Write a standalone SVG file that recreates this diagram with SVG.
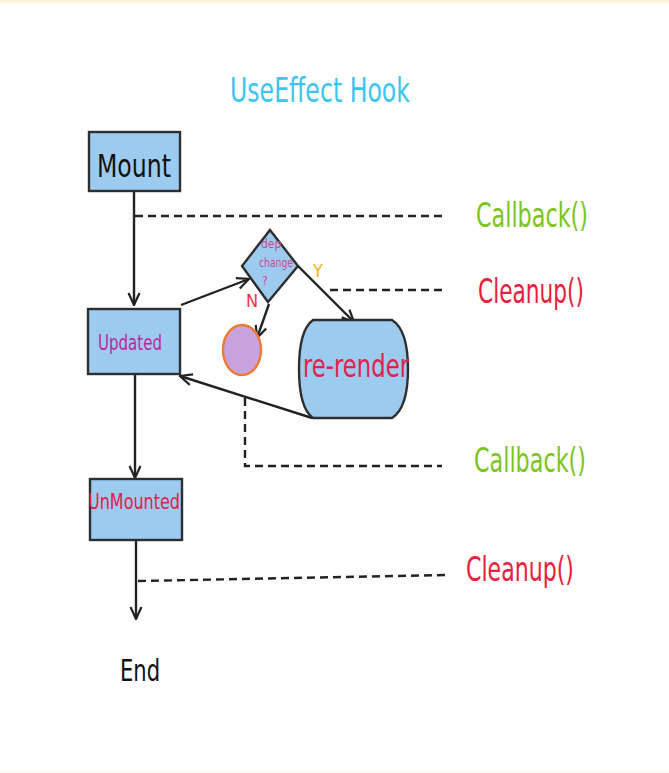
<svg xmlns="http://www.w3.org/2000/svg" width="669" height="773" viewBox="0 0 669 773">
<defs>
<style>
.box{fill:#9dcbf0;stroke:#2e2e2e;stroke-width:2.4}
.ln{fill:none;stroke:#222;stroke-width:2.4}
.dash{fill:none;stroke:#222;stroke-width:2.4;stroke-dasharray:8 5}
.t{font-family:"Liberation Sans Narrow","DejaVu Sans Condensed","Liberation Sans",sans-serif}
</style>
<marker id="arr" viewBox="0 0 14 14" refX="13" refY="7" markerWidth="14" markerHeight="14" markerUnits="userSpaceOnUse" orient="auto">
<path d="M1,1.5 L13,7 L1,12.5" fill="none" stroke="#222" stroke-width="2.2"/>
</marker>
</defs>
<rect x="0" y="0" width="669" height="773" fill="#ffffff"/>
<rect x="0" y="0" width="669" height="3" fill="#fff4d4"/>
<rect x="0" y="771" width="669" height="2" fill="#fffaf0"/>

<text class="t" x="320" y="102" font-size="34" fill="#3ec4f0" text-anchor="middle" textLength="180" lengthAdjust="spacingAndGlyphs">UseEffect Hook</text>

<g id="connectors">
<line class="ln" x1="134" y1="191" x2="134" y2="305" marker-end="url(#arr)"/>
<line class="ln" x1="181" y1="305" x2="249" y2="279" marker-end="url(#arr)"/>
<line class="ln" x1="298" y1="266" x2="354" y2="322" marker-end="url(#arr)"/>
<line class="ln" x1="269" y1="304" x2="257" y2="338" marker-end="url(#arr)"/>
<line class="ln" x1="312" y1="418" x2="180" y2="376" marker-end="url(#arr)"/>
<line class="ln" x1="135" y1="374" x2="135" y2="478" marker-end="url(#arr)"/>
<line class="ln" x1="136" y1="540" x2="136" y2="619" marker-end="url(#arr)"/>
<line class="dash" x1="135" y1="216" x2="442" y2="216"/>
<line class="dash" x1="330" y1="290" x2="442" y2="290"/>
<polyline class="dash" points="245,398 245,466 442,466"/>
<line class="dash" x1="138" y1="581" x2="446" y2="575"/>
</g>

<g id="mount">
<rect class="box" x="89" y="132" width="91" height="59"/>
<text class="t" x="134" y="177" font-size="32" fill="#111" text-anchor="middle" textLength="74" lengthAdjust="spacingAndGlyphs">Mount</text>
</g>

<g id="updated">
<rect class="box" x="88" y="309" width="92" height="65"/>
<text class="t" x="130" y="350" font-size="22" fill="#c2249e" text-anchor="middle" textLength="64" lengthAdjust="spacingAndGlyphs">Updated</text>
</g>

<g id="decision">
<polygon class="box" points="270,230 298,266 268,302 242,266"/>
<text class="t" x="261" y="248" font-size="12" fill="#d2448c">dep</text>
<text class="t" x="259" y="267" font-size="12" fill="#d2448c" textLength="34" lengthAdjust="spacingAndGlyphs">change</text>
<text class="t" x="262" y="285" font-size="12" fill="#d2448c">?</text>
</g>

<text class="t" x="318" y="277" font-size="18" fill="#f2b41e" text-anchor="middle">Y</text>
<text class="t" x="252" y="307" font-size="18" fill="#ef3050" text-anchor="middle">N</text>

<g id="noop">
<ellipse cx="242" cy="350" rx="19" ry="25" fill="#c7a2dd" stroke="#f07a30" stroke-width="2.4"/>
</g>

<g id="rerender">
<path class="box" d="M313,320 L392,320 Q408,330 408,369 Q408,408 392,418 L313,418 Q299,408 299,369 Q299,330 313,320 Z"/>
<text class="t" x="356" y="377" font-size="32" fill="#e3214b" text-anchor="middle" textLength="106" lengthAdjust="spacingAndGlyphs">re-render</text>
</g>

<g id="unmounted">
<rect class="box" x="90" y="479" width="92" height="61"/>
<text class="t" x="134" y="509" font-size="22" fill="#e0204a" text-anchor="middle" textLength="92" lengthAdjust="spacingAndGlyphs">UnMounted</text>
</g>

<g id="labels">
<text class="t" x="532" y="227" font-size="33" fill="#7cc41e" text-anchor="middle" textLength="112" lengthAdjust="spacingAndGlyphs">Callback()</text>
<text class="t" x="531" y="303" font-size="33" fill="#e8203c" text-anchor="middle" textLength="106" lengthAdjust="spacingAndGlyphs">Cleanup()</text>
<text class="t" x="530" y="472" font-size="33" fill="#7cc41e" text-anchor="middle" textLength="112" lengthAdjust="spacingAndGlyphs">Callback()</text>
<text class="t" x="520" y="581" font-size="33" fill="#e8203c" text-anchor="middle" textLength="108" lengthAdjust="spacingAndGlyphs">Cleanup()</text>
</g>

<g id="end">
<text class="t" x="140" y="681" font-size="31" fill="#111" text-anchor="middle" textLength="40" lengthAdjust="spacingAndGlyphs">End</text>
</g>
</svg>
